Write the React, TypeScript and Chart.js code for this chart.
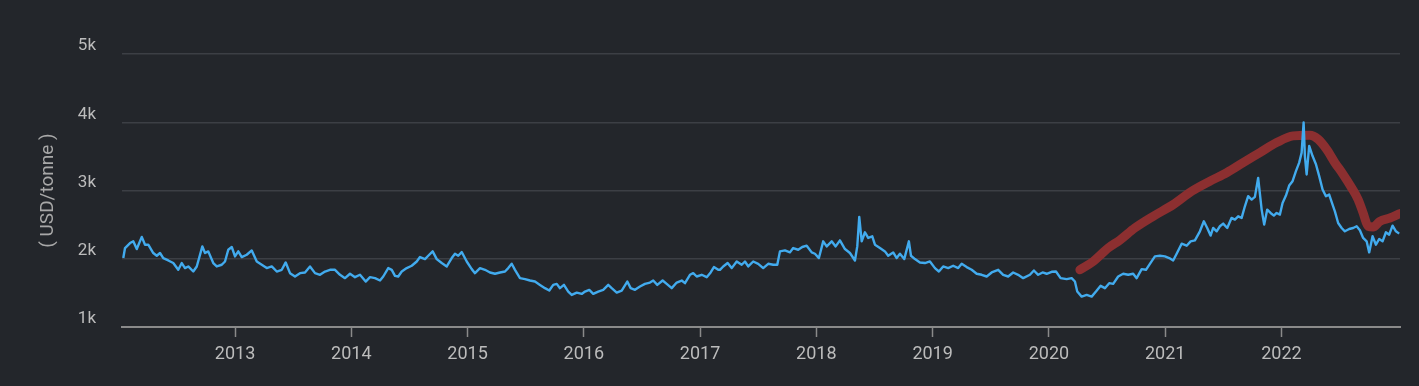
import React, { useEffect, useRef } from "react";
import { Chart, registerables } from "chart.js";

Chart.register(...registerables);

// Blue series: daily price (USD/tonne), x in decimal years
const blueYears = [
  2012.039, 2012.054, 2012.097, 2012.125, 2012.155, 2012.198, 2012.226, 2012.254, 2012.297, 2012.327,
  2012.355, 2012.383, 2012.426, 2012.469, 2012.512, 2012.542, 2012.57, 2012.598, 2012.641, 2012.671,
  2012.719, 2012.742, 2012.77, 2012.813, 2012.843, 2012.886, 2012.914, 2012.942, 2012.972, 2013.0,
  2013.028, 2013.058, 2013.101, 2013.144, 2013.187, 2013.23, 2013.273, 2013.316, 2013.359, 2013.402,
  2013.436, 2013.473, 2013.516, 2013.559, 2013.602, 2013.645, 2013.688, 2013.731, 2013.774, 2013.817,
  2013.86, 2013.903, 2013.946, 2013.989, 2014.032, 2014.075, 2014.124, 2014.161, 2014.204, 2014.247,
  2014.275, 2014.318, 2014.348, 2014.376, 2014.404, 2014.434, 2014.477, 2014.52, 2014.563, 2014.591,
  2014.634, 2014.662, 2014.7, 2014.735, 2014.778, 2014.821, 2014.864, 2014.892, 2014.92, 2014.95,
  2014.993, 2015.036, 2015.064, 2015.107, 2015.15, 2015.193, 2015.236, 2015.279, 2015.322, 2015.35,
  2015.38, 2015.408, 2015.451, 2015.494, 2015.537, 2015.58, 2015.623, 2015.666, 2015.703, 2015.737,
  2015.767, 2015.795, 2015.829, 2015.866, 2015.896, 2015.939, 2015.982, 2016.01, 2016.047, 2016.081,
  2016.124, 2016.167, 2016.21, 2016.24, 2016.283, 2016.326, 2016.374, 2016.403, 2016.44, 2016.483,
  2016.526, 2016.569, 2016.597, 2016.632, 2016.678, 2016.713, 2016.756, 2016.799, 2016.842, 2016.87,
  2016.913, 2016.941, 2016.971, 2017.014, 2017.057, 2017.091, 2017.119, 2017.156, 2017.171, 2017.199,
  2017.237, 2017.272, 2017.315, 2017.358, 2017.386, 2017.414, 2017.457, 2017.5, 2017.543, 2017.586,
  2017.629, 2017.664, 2017.687, 2017.73, 2017.773, 2017.801, 2017.844, 2017.879, 2017.917, 2017.96,
  2017.988, 2018.022, 2018.059, 2018.089, 2018.132, 2018.166, 2018.203, 2018.246, 2018.289, 2018.332,
  2018.352, 2018.369, 2018.39, 2018.418, 2018.446, 2018.481, 2018.504, 2018.547, 2018.59, 2018.618,
  2018.661, 2018.691, 2018.719, 2018.756, 2018.796, 2018.814, 2018.848, 2018.891, 2018.934, 2018.977,
  2019.02, 2019.054, 2019.091, 2019.134, 2019.177, 2019.22, 2019.25, 2019.293, 2019.336, 2019.379,
  2019.422, 2019.465, 2019.508, 2019.564, 2019.607, 2019.65, 2019.693, 2019.736, 2019.779, 2019.837,
  2019.871, 2019.908, 2019.946, 2019.981, 2020.024, 2020.061, 2020.101, 2020.153, 2020.196, 2020.224,
  2020.244, 2020.282, 2020.325, 2020.368, 2020.405, 2020.445, 2020.482, 2020.519, 2020.553, 2020.596,
  2020.639, 2020.682, 2020.725, 2020.755, 2020.798, 2020.835, 2020.869, 2020.912, 2020.955, 2020.998,
  2021.035, 2021.069, 2021.099, 2021.142, 2021.185, 2021.219, 2021.256, 2021.299, 2021.333, 2021.362,
  2021.391, 2021.413, 2021.443, 2021.471, 2021.499, 2021.534, 2021.571, 2021.6, 2021.628, 2021.658,
  2021.686, 2021.714, 2021.744, 2021.772, 2021.8, 2021.83, 2021.852, 2021.878, 2021.907, 2021.935,
  2021.959, 2021.987, 2022.01, 2022.039, 2022.067, 2022.096, 2022.125, 2022.153, 2022.174, 2022.191,
  2022.202, 2022.217, 2022.239, 2022.268, 2022.297, 2022.325, 2022.354, 2022.383, 2022.411, 2022.44,
  2022.46, 2022.488, 2022.518, 2022.546, 2022.583, 2022.617, 2022.647, 2022.675, 2022.703, 2022.733,
  2022.755, 2022.784, 2022.813, 2022.841, 2022.87, 2022.899, 2022.927, 2022.956, 2022.985, 2023.013,
];

const blueValues = [
  2010, 2157, 2230, 2255, 2142, 2320, 2206, 2206, 2084, 2044,
  2084, 2010, 1975, 1937, 1838, 1937, 1863, 1887, 1813, 1887,
  2181, 2084, 2108, 1937, 1887, 1912, 1960, 2132, 2172, 2034,
  2108, 2025, 2059, 2122, 1960, 1912, 1863, 1887, 1813, 1838,
  1946, 1789, 1740, 1789, 1799, 1887, 1789, 1765, 1813, 1838,
  1838, 1765, 1716, 1780, 1730, 1765, 1666, 1730, 1716, 1681,
  1740, 1863, 1838, 1750, 1740, 1813, 1863, 1897, 1960, 2025,
  1995, 2044, 2108, 1995, 1937, 1887, 2010, 2073, 2044, 2098,
  1960, 1848, 1789, 1863, 1838, 1799, 1780, 1799, 1813, 1863,
  1926, 1838, 1716, 1701, 1681, 1666, 1617, 1569, 1534, 1617,
  1632, 1569, 1617, 1519, 1470, 1504, 1485, 1519, 1544, 1485,
  1519, 1544, 1617, 1569, 1504, 1534, 1666, 1569, 1544, 1593,
  1632, 1651, 1681, 1617, 1681, 1632, 1569, 1651, 1681, 1642,
  1765, 1789, 1740, 1765, 1730, 1799, 1878, 1838, 1838, 1887,
  1937, 1863, 1960, 1912, 1960, 1887, 1960, 1926, 1863, 1926,
  1912, 1912, 2108, 2122, 2093, 2157, 2132, 2172, 2191, 2093,
  2073, 2010, 2255, 2181, 2255, 2181, 2269, 2142, 2084, 1975,
  2181, 2613, 2255, 2388, 2305, 2329, 2206, 2157, 2108, 2044,
  2093, 2010, 2073, 1995, 2255, 2044, 1995, 1946, 1937, 1960,
  1863, 1813, 1887, 1863, 1897, 1863, 1926, 1878, 1838, 1780,
  1765, 1740, 1799, 1838, 1765, 1740, 1799, 1765, 1716, 1765,
  1828, 1765, 1799, 1780, 1809, 1813, 1716, 1701, 1716, 1666,
  1519, 1445, 1470, 1445, 1519, 1603, 1569, 1642, 1632, 1740,
  1780, 1765, 1780, 1716, 1848, 1838, 1926, 2034, 2044, 2034,
  2010, 1975, 2073, 2220, 2191, 2255, 2269, 2402, 2549, 2451,
  2340, 2451, 2402, 2476, 2515, 2451, 2598, 2574, 2622, 2598,
  2769, 2916, 2867, 2906, 3185, 2720, 2500, 2720, 2671, 2632,
  2671, 2647, 2818, 2926, 3073, 3137, 3284, 3408, 3555, 3996,
  3505, 3235, 3652, 3505, 3384, 3211, 3014, 2916, 2940, 2793,
  2695, 2524, 2451, 2402, 2436, 2451, 2476, 2417, 2305, 2255,
  2093, 2329, 2206, 2289, 2255, 2388, 2353, 2485, 2402, 2368,
];

// Red series: smoothed trend line
const redYears = [
  2020.267, 2020.381, 2020.51, 2020.611, 2020.74, 2020.897, 2021.069, 2021.228, 2021.385, 2021.529,
  2021.671, 2021.815, 2021.959, 2022.101, 2022.245, 2022.316, 2022.389, 2022.46, 2022.531, 2022.604,
  2022.66, 2022.703, 2022.746, 2022.789, 2022.847, 2022.933, 2023.019,
];
const redValues = [
  1838, 1960, 2157, 2274, 2451, 2622, 2793, 2989, 3137, 3260,
  3408, 3555, 3702, 3800, 3809, 3750, 3602, 3408, 3235, 3039,
  2867, 2671, 2476, 2466, 2549, 2598, 2661,
];

const yearTicks = [2013, 2014, 2015, 2016, 2017, 2018, 2019, 2020, 2021, 2022];
const yTicks = [1000, 2000, 3000, 4000, 5000];
const yTitle = "( USD/tonne )";

const BG = "#23262b";

export default function App() {
  const ref = useRef<HTMLCanvasElement | null>(null);

  useEffect(() => {
    document.body.style.margin = "0";
    document.body.style.background = BG;
    const canvas = ref.current;
    if (!canvas) return;
    const chart = new Chart(canvas, {
      type: "line",
      data: {
        datasets: [
          {
            label: "trend",
            data: redYears.map((x, i) => ({ x, y: redValues[i] })),
            borderColor: "#8c2f30",
            borderWidth: 9,
            borderCapStyle: "round",
            borderJoinStyle: "round",
            cubicInterpolationMode: "monotone",
            pointRadius: 0,
            fill: false,
            order: 1,
          },
          {
            label: "price",
            data: blueYears.map((x, i) => ({ x, y: blueValues[i] })),
            borderColor: "#42abee",
            borderWidth: 2.4,
            borderJoinStyle: "round",
            pointRadius: 0,
            tension: 0,
            fill: false,
            order: 0,
          },
        ],
      },
      options: {
        responsive: false,
        animation: false,
        events: [],
        layout: { padding: { left: 0, right: 19, top: 54, bottom: 0 } },
        plugins: { legend: { display: false }, tooltip: { enabled: false } },
        scales: {
          x: {
            type: "linear",
            min: 2012.028,
            max: 2023.02,
            afterBuildTicks: (s: any) => {
              s.ticks = yearTicks.map((v) => ({ value: v }));
            },
            afterFit: (s: any) => {
              s.height = 59;
            },
            grid: {
              display: true,
              drawOnChartArea: false,
              drawTicks: true,
              tickLength: 10,
              tickColor: "#8a8a8a",
              tickWidth: 1.5,
            },
            border: { display: true, color: "#8a8a8a", width: 2 },
            ticks: {
              autoSkip: false,
              maxRotation: 0,
              padding: 7,
              color: "#bcbcbc",
              font: { family: "Roboto", size: 18 },
              callback: (v: any) => String(v),
            },
          },
          y: {
            type: "linear",
            min: 1000,
            max: 5000,
            afterBuildTicks: (s: any) => {
              s.ticks = yTicks.map((v) => ({ value: v }));
            },
            afterFit: (s: any) => {
              s.width = 122;
            },
            grid: {
              color: "#3c3f45",
              lineWidth: 1.5,
              drawTicks: false,
            },
            border: { display: false },
            ticks: {
              padding: 26,
              labelOffset: -8,
              color: "#bcbcbc",
              font: { family: "Roboto", size: 17 },
              callback: (v: any) => v / 1000 + "k",
            },
            title: {
              display: true,
              text: yTitle,
              color: "#a8a8a8",
              font: { family: "Roboto", size: 19 },
              padding: { top: 37, bottom: 0 },
            },
          },
        },
      },
    });
    return () => chart.destroy();
  }, []);

  return (
    <div style={{ width: 1419, height: 386, background: BG }}>
      <canvas ref={ref} width={1419} height={386} style={{ display: "block" }} />
    </div>
  );
}
